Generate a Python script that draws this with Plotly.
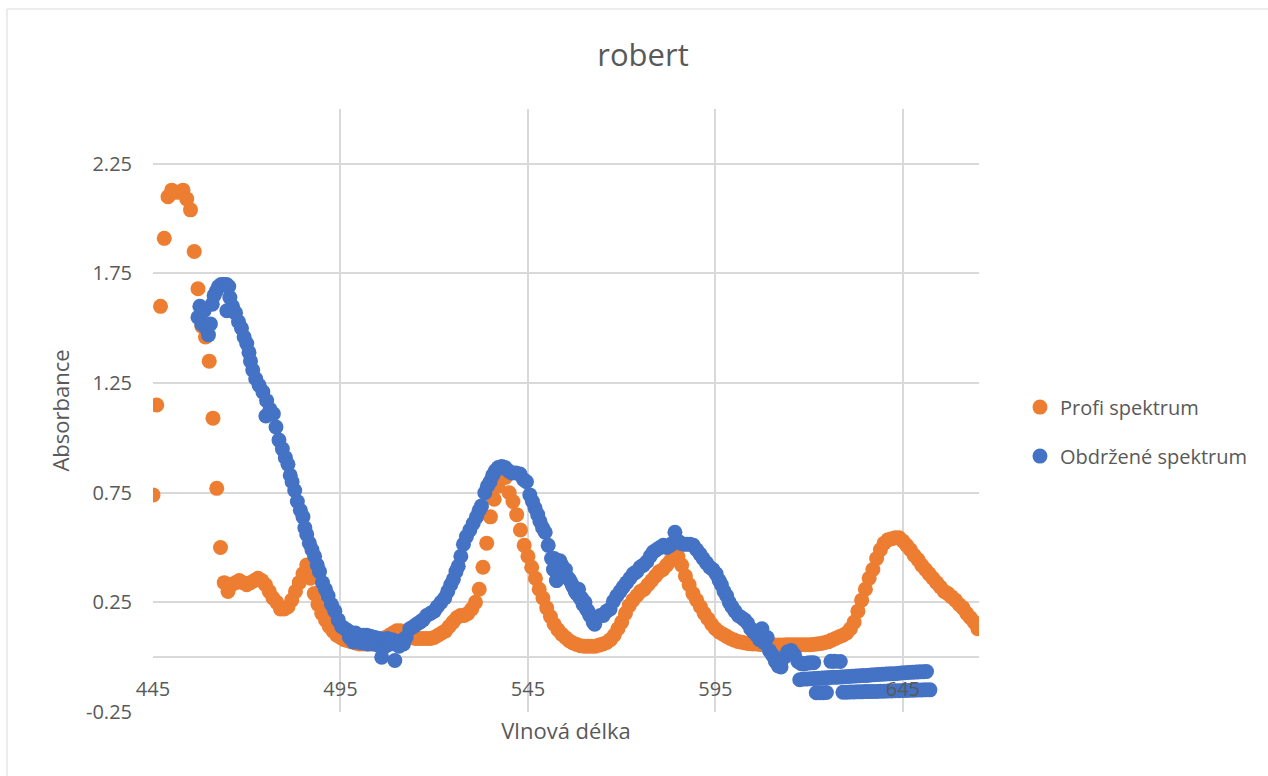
import plotly.graph_objects as go

# Wavelength axis of the reference spectrum (1 nm sampling)
profi_nm = list(range(445, 666))
profi_abs = [
    0.74, 1.15, 1.60, 1.91, 2.10, 2.13, 2.12, 2.12, 2.13, 2.09,   # 445-454
    2.04, 1.85, 1.68, 1.51, 1.46, 1.35, 1.09, 0.77, 0.50, 0.34,   # 455-464
    0.30, 0.33, 0.34, 0.35, 0.34, 0.33, 0.34, 0.35, 0.36, 0.35,   # 465-474
    0.33, 0.30, 0.27, 0.25, 0.22, 0.22, 0.23, 0.26, 0.30, 0.34,   # 475-484
    0.38, 0.42, 0.36, 0.29, 0.24, 0.20, 0.17, 0.14, 0.12, 0.10,   # 485-494
    0.09, 0.08, 0.075, 0.07, 0.065, 0.06, 0.06, 0.06, 0.06, 0.065,  # 495-504
    0.07, 0.08, 0.09, 0.10, 0.11, 0.12, 0.12, 0.11, 0.10, 0.09,   # 505-514
    0.085, 0.085, 0.085, 0.085, 0.085, 0.09, 0.10, 0.11, 0.12, 0.14,  # 515-524
    0.16, 0.18, 0.19, 0.19, 0.20, 0.22, 0.25, 0.31, 0.41, 0.52,   # 525-534
    0.64, 0.72, 0.78, 0.84, 0.82, 0.75, 0.71, 0.65, 0.58, 0.51,   # 535-544
    0.46, 0.41, 0.36, 0.31, 0.27, 0.225, 0.185, 0.15, 0.125, 0.105,  # 545-554
    0.09, 0.075, 0.065, 0.058, 0.052, 0.05, 0.05, 0.05, 0.05, 0.055,  # 555-564
    0.06, 0.067, 0.08, 0.10, 0.13, 0.16, 0.20, 0.235, 0.26, 0.28,  # 565-574
    0.30, 0.31, 0.33, 0.35, 0.37, 0.39, 0.40, 0.42, 0.44, 0.46,   # 575-584
    0.46, 0.42, 0.37, 0.33, 0.29, 0.26, 0.23, 0.20, 0.175, 0.15,  # 585-594
    0.13, 0.115, 0.105, 0.095, 0.085, 0.078, 0.072, 0.068, 0.065, 0.062,  # 595-604
    0.06, 0.06, 0.058, 0.057, 0.057, 0.056, 0.056, 0.056, 0.056, 0.057,  # 605-614
    0.057, 0.057, 0.057, 0.057, 0.057, 0.057, 0.058, 0.06, 0.062, 0.066,  # 615-624
    0.07, 0.078, 0.085, 0.093, 0.10, 0.11, 0.13, 0.16, 0.21, 0.26,  # 625-634
    0.31, 0.36, 0.40, 0.45, 0.49, 0.52, 0.535, 0.54, 0.545, 0.545,  # 635-644
    0.53, 0.51, 0.49, 0.465, 0.445, 0.42, 0.40, 0.38, 0.36, 0.34,  # 645-654
    0.32, 0.30, 0.29, 0.275, 0.26, 0.24, 0.225, 0.20, 0.18, 0.16,  # 655-664
    0.13,                                                          # 665
]

# Measured spectrum: wavelengths as recorded (uneven, with repeated passes at the red end)
obdrzene_nm = [
    457.0, 457.5, 458.0, 458.6, 459.2, 459.8, 460.3, 460.8, 461.3, 461.9,
    462.5, 463.2, 463.9, 464.6, 465.2, 465.5, 464.7, 466.2, 467.0, 467.8,
    468.6, 469.3, 470.0, 470.6, 471.0, 471.6, 472.4, 473.3, 474.3, 475.3,
    475.1, 476.2, 477.1, 477.8, 478.6, 479.5, 480.3, 481.0, 481.6, 482.1,
    482.8, 483.5, 484.3, 485.0, 485.5, 486.0, 486.7, 487.4, 488.1, 488.8,
    489.4, 490.2, 491.0, 491.7, 492.6, 493.5, 494.4, 495.3, 496.2, 497.0,
    497.4, 498.0, 498.5, 499.0, 499.6, 500.0, 500.8, 501.2, 502.0, 502.3,
    503.0, 503.7, 504.2, 505.0, 505.5, 506.0, 506.5, 507.0, 507.5, 508.3,
    508.8, 509.5, 510.0, 510.6, 511.2, 511.8, 512.5, 513.5, 514.5, 515.3,
    516.2, 517.0, 518.0, 519.0, 520.0, 520.8, 521.8, 522.8, 523.6, 524.4,
    525.1, 525.8, 526.4, 527.1, 527.8, 528.6, 529.5, 530.4, 531.3, 532.0,
    532.6, 533.5, 534.2, 534.9, 535.6, 536.3, 537.1, 538.0, 538.9, 539.8,
    540.7, 541.8, 542.9, 543.8, 544.6, 545.5, 546.2, 546.9, 547.6, 548.2,
    548.9, 549.6, 550.4, 551.3, 552.0, 552.7, 553.5, 554.4, 555.2, 556.2,
    557.1, 558.0, 558.9, 559.7, 560.6, 561.5, 562.4, 562.8, 563.5, 564.3,
    565.1, 566.0, 566.9, 567.8, 568.7, 569.6, 570.4, 571.3, 572.2, 573.1,
    574.0, 574.9, 575.8, 576.7, 577.6, 578.4, 579.3, 580.2, 581.1, 582.0,
    582.9, 583.6, 584.2, 585.0, 585.8, 586.6, 587.4, 588.2, 589.1, 590.0,
    590.9, 591.7, 592.6, 593.5, 594.3, 595.2, 596.0, 596.6, 597.3, 598.0,
    598.7, 599.4, 600.2, 601.1, 602.0, 602.8, 603.6, 604.4, 605.2, 606.0,
    606.8, 607.4, 608.1, 608.8, 609.4, 610.2, 611.0, 611.8, 612.5, 613.4,
    614.3, 615.2, 616.1, 617.0, 617.9, 618.8, 619.6, 620.4, 621.2, 625.8,
    626.8, 628.3,
    # second scan over the 551-563 nm shoulder
    551.8, 552.6, 553.2, 554.0, 555.0, 555.8, 556.8, 557.6, 558.5, 559.3,
    560.2, 561.0, 561.8,
    617.5, 618.5, 619.5, 620.5, 621.5, 622.5, 623.5, 624.5, 625.5, 626.5,
    627.5, 628.5, 629.5, 630.5, 631.5, 632.5, 633.5, 634.5, 635.5, 636.5,
    637.5, 638.5, 639.5, 640.5, 641.5, 642.5, 643.5, 644.5, 645.5, 646.5,
    647.5, 648.5, 649.5, 650.5, 651.3,
    621.9, 622.8, 623.7, 624.6, 629.0, 630.0, 631.0, 632.0, 633.0, 634.0,
    635.0, 636.0, 637.0, 638.0, 639.0, 640.0, 641.0, 642.0, 643.0, 644.0,
    645.0, 646.0, 647.0, 648.0, 649.0, 650.0, 651.0, 652.2,
]
obdrzene_abs = [
    1.55, 1.60, 1.52, 1.58, 1.50, 1.47, 1.52, 1.61, 1.65, 1.67,
    1.69, 1.70, 1.70, 1.70, 1.69, 1.64, 1.58, 1.60, 1.57, 1.53,
    1.50, 1.46, 1.43, 1.39, 1.35, 1.31, 1.27, 1.24, 1.21, 1.17,
    1.10, 1.13, 1.11, 1.05, 0.99, 0.95, 0.91, 0.88, 0.83, 0.80,
    0.76, 0.71, 0.67, 0.64, 0.59, 0.56, 0.52, 0.49, 0.46, 0.42,
    0.39, 0.34, 0.31, 0.28, 0.24, 0.21, 0.17, 0.14, 0.13, 0.12,
    0.09, 0.11, 0.07, 0.11, 0.07, 0.10, 0.065, 0.10, 0.10, 0.06,
    0.095, 0.06, 0.09, 0.055, 0.085, 0.0, 0.08, 0.05, 0.085, 0.06,
    0.08, -0.015, 0.07, 0.05, 0.075, 0.06, 0.09, 0.13, 0.14, 0.15,
    0.16, 0.17, 0.19, 0.20, 0.21, 0.23, 0.25, 0.27, 0.30, 0.33,
    0.355, 0.39, 0.415, 0.46, 0.515, 0.55, 0.58, 0.61, 0.64, 0.67,
    0.69, 0.75, 0.78, 0.80, 0.83, 0.85, 0.865, 0.87, 0.865, 0.85,
    0.84, 0.84, 0.835, 0.81, 0.80, 0.74, 0.71, 0.68, 0.65, 0.62,
    0.59, 0.57, 0.51, 0.45, 0.45, 0.35, 0.44, 0.39, 0.37, 0.35,
    0.32, 0.29, 0.27, 0.24, 0.22, 0.19, 0.16, 0.15, 0.18, 0.19,
    0.19, 0.21, 0.22, 0.255, 0.28, 0.30, 0.32, 0.34, 0.36, 0.38,
    0.39, 0.41, 0.42, 0.435, 0.46, 0.48, 0.49, 0.50, 0.51, 0.50,
    0.51, 0.52, 0.57, 0.53, 0.52, 0.515, 0.515, 0.515, 0.51, 0.49,
    0.47, 0.45, 0.43, 0.41, 0.40, 0.38, 0.35, 0.33, 0.30, 0.28,
    0.25, 0.23, 0.21, 0.19, 0.18, 0.17, 0.155, 0.13, 0.115, 0.10,
    0.08, 0.13, 0.065, 0.09, 0.03, 0.01, -0.02, -0.04, -0.045, 0.0,
    0.025, 0.03, 0.01, -0.02, -0.03, -0.03, -0.027, -0.025, -0.025, -0.019,
    -0.019, -0.02,
    0.40, 0.35, 0.38, 0.42, 0.40, 0.36, 0.33, 0.30, 0.31, 0.27,
    0.25, 0.21, 0.19,
    -0.103, -0.100, -0.099, -0.098, -0.097, -0.096, -0.095, -0.094, -0.093, -0.092,
    -0.091, -0.090, -0.089, -0.088, -0.087, -0.086, -0.085, -0.084, -0.083, -0.081,
    -0.080, -0.079, -0.078, -0.077, -0.076, -0.075, -0.074, -0.072, -0.071, -0.070,
    -0.069, -0.068, -0.067, -0.066, -0.065,
    -0.162, -0.162, -0.162, -0.161, -0.160, -0.160, -0.159, -0.159, -0.158, -0.158,
    -0.157, -0.157, -0.156, -0.156, -0.155, -0.155, -0.154, -0.154, -0.153, -0.153,
    -0.152, -0.152, -0.151, -0.151, -0.150, -0.150, -0.149, -0.149,
]

series_names = ["Profi spektrum", "Obdržené spektrum"]
series_colors = ["#ED7D31", "#4472C4"]

x_ticks = [445, 495, 545, 595, 645]
x_tick_labels = ["445", "495", "545", "595", "645"]
y_ticks = [-0.25, 0.25, 0.75, 1.25, 1.75, 2.25]
y_tick_labels = ["-0.25", "0.25", "0.75", "1.25", "1.75", "2.25"]

Y_MIN, Y_MAX = -0.25, 2.5
X_MIN, X_MAX = 445, 665.3
TEXT = "#595959"
GRID = "#d9d9d9"

fig = go.Figure()
for i, (xs, ys) in enumerate([(profi_nm, profi_abs), (obdrzene_nm, obdrzene_abs)]):
    fig.add_trace(go.Scatter(
        x=xs, y=ys, mode="markers", name=series_names[i],
        legendgroup=f"g{i}",
        marker=dict(color=series_colors[i], size=15, line=dict(width=0)),
    ))

fig.update_layout(
    width=1268, height=776,
    margin=dict(l=153, r=289, t=109, b=64),
    paper_bgcolor="white", plot_bgcolor="white",
    font=dict(family="Open Sans", color=TEXT, size=20),
    title=dict(text="robert", x=643 / 1268, xanchor="center", y=1 - 55 / 776,
               yanchor="middle", font=dict(size=31, color=TEXT)),
    legend=dict(x=1.0496, y=0.465, xanchor="left", yanchor="middle",
                font=dict(size=20, color=TEXT), tracegroupgap=20,
                bgcolor="rgba(0,0,0,0)"),
    showlegend=True,
)

# x axis crosses the value axis at zero, so its labels sit just under y = 0
fig.update_xaxes(
    range=[X_MIN, X_MAX], tickmode="array", tickvals=x_ticks, ticktext=x_tick_labels,
    showgrid=True, gridcolor=GRID, gridwidth=1.5, zeroline=False, showline=False,
    anchor="free", position=(0 - Y_MIN) / (Y_MAX - Y_MIN),
    ticks="", ticklabelstandoff=18, tickfont=dict(size=20, color=TEXT),
    title=dict(text="Vlnová délka", font=dict(size=22, color=TEXT), standoff=22),
)
fig.update_yaxes(
    range=[Y_MIN, Y_MAX], tickmode="array", tickvals=y_ticks, ticktext=y_tick_labels,
    showgrid=True, gridcolor=GRID, gridwidth=1.5,
    zeroline=True, zerolinecolor=GRID, zerolinewidth=1.5, showline=False,
    ticks="", ticklabelstandoff=20, tickfont=dict(size=20, color=TEXT),
    title=dict(text="Absorbance", font=dict(size=22, color=TEXT), standoff=10),
)

# Chart-area frame (left and top edges)
fx0 = (7 - 153) / 826
fy1 = (712 - 9) / 603
fig.add_shape(type="line", xref="paper", yref="paper", x0=fx0, x1=fx0, y0=-0.2, y1=fy1,
              line=dict(color=GRID, width=1))
fig.add_shape(type="line", xref="paper", yref="paper", x0=fx0, x1=1.5, y0=fy1, y1=fy1,
              line=dict(color=GRID, width=1))

fig.write_html("out.html")
